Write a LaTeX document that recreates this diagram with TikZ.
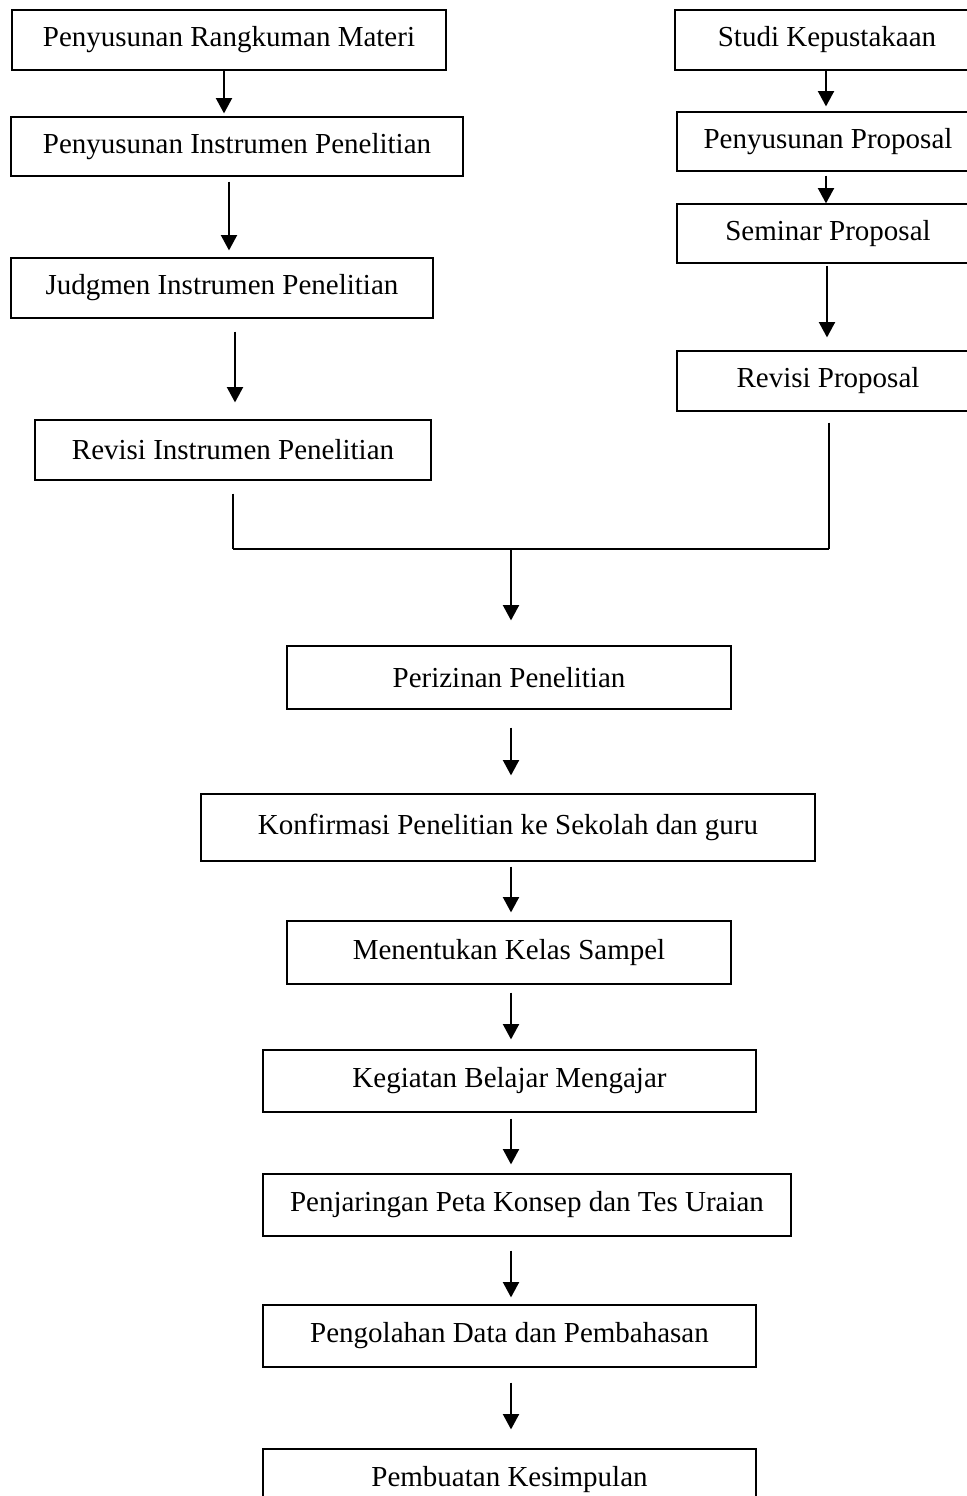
\documentclass[tikz,border=0pt]{standalone}
\usepackage{fontspec}
\setmainfont{Liberation Serif}
\usetikzlibrary{arrows.meta}

\tikzset{
	kotak/.style 2 args={draw, line width=0.9pt, inner sep=0pt, minimum width=#1, minimum height=#2, font=\fontsize{21.75}{26}\selectfont},
	panah/.style={line width=1.5pt, -{Triangle[width=12pt,length=11.5pt]}},
	garis/.style={line width=0.8pt}
}

\begin{document}
\begin{tikzpicture}[x=0.75pt,y=0.75pt,yscale=-1,xscale=1]
	\useasboundingbox (0,0) rectangle (967,1496);

	% Text Node
	\node [kotak={325.5pt}{45pt}] (b1) at (229,40) {Penyusunan Rangkuman Materi};
	% Text Node
	\node [kotak={339pt}{44.25pt}] (b2) at (237,146.5) {Penyusunan Instrumen Penelitian};
	% Text Node
	\node [kotak={316.5pt}{45pt}] (b3) at (222,288) {Judgmen Instrumen Penelitian};
	% Text Node
	\node [kotak={297pt}{45pt}] (b4) at (233,450) {Revisi Instrumen Penelitian};
	% Text Node
	\node [kotak={228pt}{45pt}] (r1) at (827,40) {Studi Kepustakaan};
	% Text Node
	\node [kotak={226.5pt}{44.25pt}] (r2) at (828,141.5) {Penyusunan Proposal};
	% Text Node
	\node [kotak={226.5pt}{44.25pt}] (r3) at (828,233.5) {Seminar Proposal};
	% Text Node
	\node [kotak={226.5pt}{45pt}] (r4) at (828,381) {Revisi Proposal};
	% Text Node
	\node [kotak={333pt}{47.25pt}] (c1) at (509,677.5) {Perizinan Penelitian};
	% Text Node
	\node [kotak={460.5pt}{50.25pt}] (c2) at (508,827.5) {Konfirmasi Penelitian ke Sekolah dan guru};
	% Text Node
	\node [kotak={333pt}{47.25pt}] (c3) at (509,952.5) {Menentukan Kelas Sampel};
	% Text Node
	\node [kotak={369.75pt}{46.5pt}] (c4) at (509.5,1081) {Kegiatan Belajar Mengajar};
	% Text Node
	\node [kotak={396pt}{46.5pt}] (c5) at (527,1205) {Penjaringan Peta Konsep dan Tes Uraian};
	% Text Node
	\node [kotak={369.75pt}{46.5pt}] (c6) at (509.5,1336) {Pengolahan Data dan Pembahasan};
	% Text Node
	\node [kotak={369.75pt}{46.5pt}] (c7) at (509.5,1480) {Pembuatan Kesimpulan};

	\coordinate (j1) at (233,549);
	\coordinate (j2) at (829,549);
	\coordinate (jm) at (511,549);

	% Connection
	\draw [panah, shorten >=2.25pt] ([xshift=-3.75pt]b1.south) -- ([xshift=-9.75pt]b2.north);
	% Connection
	\draw [panah, shorten <=3.75pt, shorten >=5.25pt] ([xshift=-6pt]b2.south) -- ([xshift=5.25pt]b3.north);
	% Connection
	\draw [panah, shorten <=9.75pt, shorten >=12.75pt] ([xshift=9.75pt]b3.south) -- ([xshift=1.5pt]b4.north);
	% Connection
	\draw [panah, shorten >=3.75pt] ([xshift=-0.75pt]r1.south) -- ([xshift=-1.5pt]r2.north);
	% Connection
	\draw [panah, shorten <=3pt] ([xshift=-1.5pt]r2.south) -- ([xshift=-1.5pt]r3.north);
	% Connection
	\draw [panah, shorten <=1.5pt, shorten >=9.75pt] ([xshift=-0.75pt]r3.south) -- ([xshift=-0.75pt]r4.north);
	% Connection
	\draw [garis, shorten <=9.75pt] (b4.south -| j1) -- (j1);
	% Connection
	\draw [garis, shorten <=8.25pt] (r4.south -| j2) -- (j2);
	% Connection
	\draw [garis] (j1) -- (j2);
	% Connection
	\draw [panah, shorten >=18.75pt] (jm) -- (jm |- c1.north);
	% Connection
	\draw [panah, shorten <=13.5pt, shorten >=13.5pt] (c1.south -| jm) -- (c2.north -| jm);
	% Connection
	\draw [panah, shorten <=3.75pt, shorten >=6pt] (c2.south -| jm) -- (c3.north -| jm);
	% Connection
	\draw [panah, shorten <=6pt, shorten >=7.5pt] (c3.south -| jm) -- (c4.north -| jm);
	% Connection
	\draw [panah, shorten <=4.5pt, shorten >=6.75pt] (c4.south -| jm) -- (c5.north -| jm);
	% Connection
	\draw [panah, shorten <=10.5pt, shorten >=5.25pt] (c5.south -| jm) -- (c6.north -| jm);
	% Connection
	\draw [panah, shorten <=11.25pt, shorten >=14.25pt] (c6.south -| jm) -- (c7.north -| jm);

\end{tikzpicture}
\end{document}
